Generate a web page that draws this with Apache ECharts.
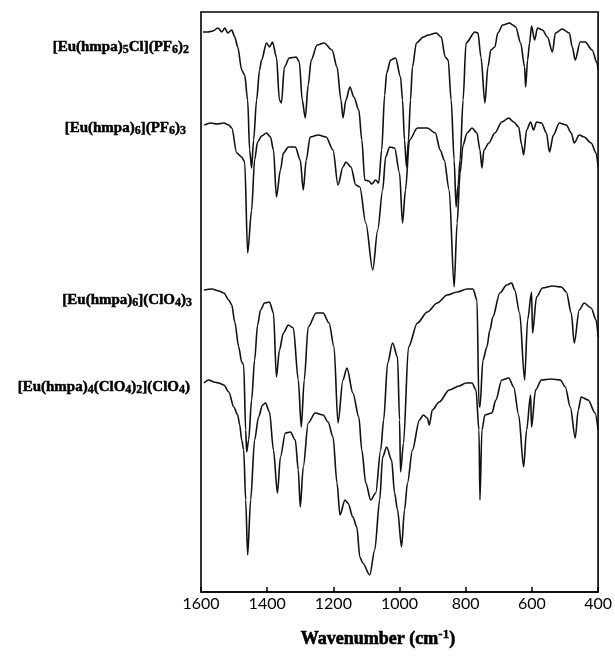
<!DOCTYPE html>
<html>
<head>
<meta charset="utf-8">
<script src="https://cdn.jsdelivr.net/npm/echarts@6/dist/echarts.min.js"></script>
<style>
  html, body { margin: 0; padding: 0; background: #fff; }
  #chart { width: 615px; height: 656px; }
</style>
</head>
<body>
<div id="chart"></div>
<script>
// x ticks (cm-1)
var xTicks = [1600, 1400, 1200, 1000, 800, 600, 400];

// labels of the four spectra, top to bottom
var names = [
  '[Eu(hmpa)5Cl](PF6)2',
  '[Eu(hmpa)6](PF6)3',
  '[Eu(hmpa)6](ClO4)3',
  '[Eu(hmpa)4(ClO4)2](ClO4)'
];

// [wavenumber, offset transmittance]
var specClPF6 = [
  [1594,560],[1579,560],[1564,561],[1549,564],[1537,560],[1528,564],[1519,559],[1507,562],
  [1498,555],[1489,545],[1477,522],[1468,517],[1459,492],[1453,442],[1447,424],[1441,452],
  [1432,492],[1423,522],[1417,532],[1402,549],[1393,545],[1384,550],[1372,535],[1363,492],
  [1357,489],[1348,525],[1333,534],[1312,535],[1303,530],[1294,492],[1285,474],[1276,507],
  [1267,532],[1249,547],[1228,549],[1204,542],[1189,525],[1177,492],[1171,474],[1162,492],
  [1150,505],[1138,495],[1123,482],[1114,452],[1105,412],[1093,411],[1084,408],[1072,412],
  [1063,409],[1054,442],[1045,497],[1039,519],[1027,532],[1012,534],[997,515],[991,492],
  [985,452],[979,425],[973,452],[967,492],[961,525],[949,549],[928,555],[913,557],
  [889,559],[874,555],[862,535],[853,532],[844,492],[835,432],[829,385],[823,407],
  [817,432],[808,492],[799,549],[772,560],[763,559],[754,535],[742,489],[733,525],
  [724,542],[712,545],[703,559],[688,567],[667,569],[658,567],[649,565],[634,549],
  [622,525],[619,505],[613,532],[607,549],[601,566],[592,552],[583,564],[568,562],
  [553,555],[538,540],[529,559],[508,563],[487,559],[478,545],[469,532],[454,550],
  [439,550],[418,542],[403,529],[400,522]
];

var specPF6 = [
  [1590,467],[1570,469],[1552,468],[1531,469],[1516,467],[1507,464],[1492,439],[1477,435],
  [1468,430],[1459,339],[1447,382],[1438,432],[1429,450],[1417,456],[1402,459],[1390,455],
  [1381,442],[1372,395],[1360,422],[1351,439],[1336,445],[1315,445],[1300,432],[1291,402],
  [1282,432],[1270,455],[1246,457],[1222,455],[1201,442],[1186,407],[1171,425],[1162,430],
  [1147,425],[1132,407],[1120,405],[1102,369],[1081,322],[1066,362],[1051,402],[1042,435],
  [1030,445],[1015,444],[1000,419],[991,369],[982,402],[970,452],[946,464],[916,464],
  [892,459],[877,442],[865,432],[850,402],[835,305],[826,369],[817,419],[808,447],
  [796,459],[781,464],[766,459],[757,442],[751,424],[745,442],[730,449],[712,459],
  [691,470],[670,474],[655,470],[640,465],[631,447],[625,437],[616,462],[604,470],
  [595,462],[586,470],[571,469],[556,459],[547,440],[535,457],[517,469],[496,467],
  [481,459],[472,449],[457,457],[442,455],[421,449],[406,439],[400,425]
];

var specClO4 = [
  [1591,302],[1567,303],[1546,301],[1531,299],[1516,292],[1507,287],[1498,270],[1486,245],
  [1477,230],[1471,227],[1465,162],[1462,140],[1456,152],[1447,192],[1438,232],[1429,267],
  [1420,282],[1408,289],[1393,290],[1381,279],[1372,215],[1363,242],[1351,259],[1336,267],
  [1321,264],[1306,212],[1297,165],[1288,212],[1276,265],[1252,279],[1231,279],[1213,269],
  [1198,245],[1186,169],[1171,212],[1159,224],[1141,199],[1123,175],[1114,142],[1102,109],
  [1087,92],[1072,99],[1057,142],[1048,172],[1036,229],[1021,249],[1006,235],[1000,172],
  [997,120],[988,149],[973,245],[946,269],[916,280],[886,289],[856,297],[826,300],
  [796,303],[778,303],[766,292],[760,187],[757,185],[748,232],[736,245],[727,262],
  [718,275],[697,299],[676,307],[661,309],[652,302],[637,279],[622,212],[613,272],
  [601,300],[598,259],[586,295],[568,304],[538,306],[511,305],[496,300],[481,279],
  [472,249],[457,282],[442,289],[421,284],[406,272],[400,255]
];

var specClO4Coord = [
  [1591,209],[1576,212],[1561,210],[1546,209],[1531,207],[1516,200],[1501,185],[1489,177],
  [1483,167],[1477,152],[1471,142],[1465,92],[1459,37],[1450,92],[1438,152],[1426,175],
  [1414,187],[1405,189],[1393,180],[1381,142],[1369,99],[1360,135],[1345,159],[1330,160],
  [1315,152],[1306,122],[1300,85],[1291,125],[1276,169],[1255,179],[1231,177],[1216,170],
  [1201,155],[1189,109],[1180,77],[1165,92],[1156,89],[1141,75],[1129,65],[1120,35],
  [1111,29],[1090,17],[1075,42],[1060,92],[1051,135],[1039,145],[1024,132],[1015,99],
  [1006,82],[994,45],[985,82],[976,109],[961,142],[940,172],[928,177],[916,174],
  [910,167],[901,182],[880,190],[850,202],[820,206],[799,209],[781,209],[769,202],
  [760,162],[757,92],[751,162],[742,177],[721,179],[709,192],[691,212],[670,214],
  [655,205],[640,177],[625,125],[616,162],[604,197],[601,165],[589,202],[571,212],
  [541,213],[514,212],[499,205],[484,185],[469,154],[460,182],[451,195],[430,192],
  [409,179],[400,162]
];

var spectra = [specClPF6, specPF6, specClO4, specClO4Coord];

// rich text for the compound labels: digits after a letter/bracket are subscripts
function richName(s) {
  return s.replace(/([\)a-zA-Z])(\d)/g, '$1{s|$2}').replace(/(^|\})([^{}]+)(?=\{|$)/g, '$1{m|$2}');
}

var labelY = [47, 128, 300, 387];
var labelX = [189, 186, 192, 190];

var chart = echarts.init(document.getElementById('chart'));

var option = {
  animation: false,
  backgroundColor: '#fff',
  grid: {
    left: 201, right: 13, top: 12, bottom: 64,
    show: true, borderColor: '#000', borderWidth: 1.6
  },
  xAxis: {
    type: 'value',
    inverse: true,
    min: 400, max: 1600, interval: 200,
    axisLine: { lineStyle: { color: '#000', width: 1.6 } },
    axisTick: { inside: true, length: 5, lineStyle: { color: '#000', width: 1.5 } },
    axisLabel: {
      color: '#000', fontFamily: 'Lato', fontSize: 16, margin: 4,
      formatter: function (v) { return xTicks.indexOf(v) >= 0 ? String(v) : ''; }
    },
    splitLine: { show: false }
  },
  yAxis: { type: 'value', min: 0, max: 580, show: false },
  series: spectra.map(function (d, i) {
    return {
      type: 'line',
      name: names[i],
      data: d,
      symbol: 'none',
      smooth: 0.3,
      smoothMonotone: 'x',
      lineStyle: { color: '#111', width: 1.6 }
    };
  }),
  graphic: names.map(function (n, i) {
    return {
      type: 'text',
      x: labelX[i], y: labelY[i],
      style: {
        text: richName(n),
        align: 'right', verticalAlign: 'middle',
        rich: {
          m: { fontFamily: 'Liberation Serif', fontWeight: 'bold', fontSize: 15, lineHeight: 18,
               fill: '#000', stroke: '#000', lineWidth: 0.5 },
          s: { fontFamily: 'Liberation Serif', fontWeight: 'bold', fontSize: 12,
               verticalAlign: 'bottom', fill: '#000', stroke: '#000', lineWidth: 0.4 }
        }
      }
    };
  }).concat([{
    type: 'text',
    x: 378, y: 639,
    style: {
      text: '{t|Wavenumber (cm}{p|-1}{t|)}',
      align: 'center', verticalAlign: 'middle',
      rich: {
        t: { fontFamily: 'Liberation Serif', fontWeight: 'bold', fontSize: 18, lineHeight: 22,
             fill: '#000', stroke: '#000', lineWidth: 0.6 },
        p: { fontFamily: 'Liberation Serif', fontWeight: 'bold', fontSize: 13,
             verticalAlign: 'top', fill: '#000', stroke: '#000', lineWidth: 0.4 }
      }
    }
  }])
};

chart.setOption(option);
</script>
</body>
</html>
